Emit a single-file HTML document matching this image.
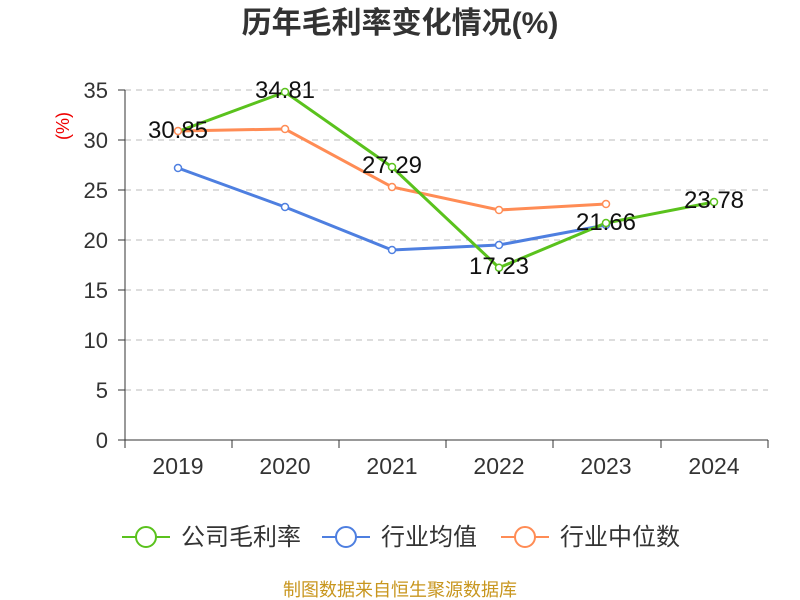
<!DOCTYPE html>
<html><head><meta charset="utf-8"><style>
body{margin:0;background:#fff;}
svg{display:block;font-family:"Liberation Sans","Noto Sans CJK SC",sans-serif;}
</style></head><body>
<svg width="800" height="600" viewBox="0 0 800 600">
<text x="400" y="33" text-anchor="middle" font-size="30" font-weight="bold" fill="#333">历年毛利率变化情况(%)</text>
<text transform="translate(69,126) rotate(-90)" text-anchor="middle" font-size="18" fill="#e00">(%)</text>
<g stroke="#bbb" stroke-dasharray="6,5" stroke-width="1">
<line x1="125" y1="90" x2="768" y2="90"/><line x1="125" y1="140" x2="768" y2="140"/>
<line x1="125" y1="190" x2="768" y2="190"/><line x1="125" y1="240" x2="768" y2="240"/>
<line x1="125" y1="290" x2="768" y2="290"/><line x1="125" y1="340" x2="768" y2="340"/>
<line x1="125" y1="390" x2="768" y2="390"/>
</g>
<g stroke="#333" stroke-width="1">
<line x1="125" y1="90" x2="125" y2="440"/>
<line x1="125" y1="440" x2="768" y2="440"/>
<line x1="118" y1="90" x2="125" y2="90"/><line x1="118" y1="140" x2="125" y2="140"/>
<line x1="118" y1="190" x2="125" y2="190"/><line x1="118" y1="240" x2="125" y2="240"/>
<line x1="118" y1="290" x2="125" y2="290"/><line x1="118" y1="340" x2="125" y2="340"/>
<line x1="118" y1="390" x2="125" y2="390"/><line x1="118" y1="440" x2="125" y2="440"/>
<line x1="125" y1="440" x2="125" y2="448"/><line x1="232" y1="440" x2="232" y2="448"/>
<line x1="339" y1="440" x2="339" y2="448"/><line x1="446" y1="440" x2="446" y2="448"/>
<line x1="553" y1="440" x2="553" y2="448"/><line x1="661" y1="440" x2="661" y2="448"/>
<line x1="768" y1="440" x2="768" y2="448"/>
</g>
<g font-size="22" fill="#333" text-anchor="end">
<text x="108" y="98">35</text><text x="108" y="148">30</text><text x="108" y="198">25</text>
<text x="108" y="248">20</text><text x="108" y="298">15</text><text x="108" y="348">10</text>
<text x="108" y="398">5</text><text x="108" y="448">0</text>
</g>
<g font-size="23" fill="#333" text-anchor="middle">
<text x="178" y="474">2019</text><text x="285" y="474">2020</text><text x="392" y="474">2021</text>
<text x="499" y="474">2022</text><text x="606" y="474">2023</text><text x="714" y="474">2024</text>
</g>
<g fill="none" stroke-width="3">
<polyline stroke="#4e7fe0" points="178,168 285,207 392,250 499,245 606,225"/>
<polyline stroke="#ff8c55" points="178,131 285,129 392,187 499,210 606,204"/>
<polyline stroke="#5ac21d" points="178,131.5 285,92 392,167 499,267.7 606,223 714,202"/>
</g>
<g fill="#fff" stroke-width="1.5">
<g stroke="#4e7fe0"><circle cx="178" cy="168" r="3.5"/><circle cx="285" cy="207" r="3.5"/><circle cx="392" cy="250" r="3.5"/><circle cx="499" cy="245" r="3.5"/><circle cx="606" cy="225" r="3.5"/></g>
<g stroke="#ff8c55"><circle cx="178" cy="131" r="3.5"/><circle cx="285" cy="129" r="3.5"/><circle cx="392" cy="187" r="3.5"/><circle cx="499" cy="210" r="3.5"/><circle cx="606" cy="204" r="3.5"/></g>
<g stroke="#5ac21d"><circle cx="285" cy="92" r="3.5"/><circle cx="392" cy="167" r="3.5"/><circle cx="499" cy="267.7" r="3.5"/><circle cx="606" cy="223" r="3.5"/><circle cx="714" cy="202" r="3.5"/></g>
</g>
<g font-size="24" fill="#111" text-anchor="middle">
<text x="178" y="138">30.85</text><text x="285" y="98">34.81</text><text x="392" y="173">27.29</text>
<text x="499" y="274">17.23</text><text x="606" y="230">21.66</text><text x="714" y="208">23.78</text>
</g>
<g stroke-width="2" fill="#fff">
<line x1="122" y1="537" x2="170" y2="537" stroke="#5ac21d"/><circle cx="146" cy="537" r="10" stroke="#5ac21d"/>
<line x1="322" y1="537" x2="370" y2="537" stroke="#4e7fe0"/><circle cx="346" cy="537" r="10" stroke="#4e7fe0"/>
<line x1="501" y1="537" x2="549" y2="537" stroke="#ff8c55"/><circle cx="525" cy="537" r="10" stroke="#ff8c55"/>
</g>
<g font-size="24" fill="#333">
<text x="181" y="545">公司毛利率</text><text x="381" y="545">行业均值</text><text x="560" y="545">行业中位数</text>
</g>
<text x="400" y="596" text-anchor="middle" font-size="18" fill="#c8961e">制图数据来自恒生聚源数据库</text>
</svg>
</body></html>
